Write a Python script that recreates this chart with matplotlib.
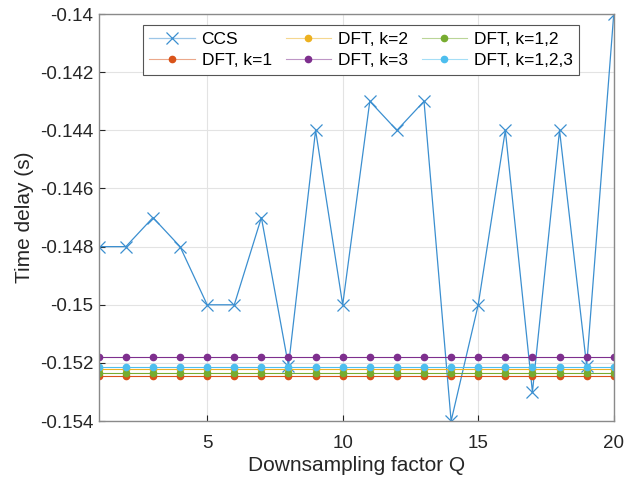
import numpy as np
import matplotlib.pyplot as plt
from matplotlib.colors import to_rgba

plt.rcParams['font.family'] = ['Liberation Sans', 'DejaVu Sans']

q = np.arange(1, 21)
ccs = [-0.148, -0.148, -0.147, -0.148, -0.150, -0.150, -0.147, -0.1521, -0.144, -0.150,
       -0.143, -0.144, -0.143, -0.154, -0.150, -0.144, -0.153, -0.144, -0.1521, -0.140]
dft_k1 = [-0.15244] * 20
dft_k2 = [-0.15221] * 20
dft_k3 = [-0.15178] * 20
dft_k12 = [-0.15233] * 20
dft_k123 = [-0.15215] * 20

fig = plt.figure(figsize=(6.25, 4.84), dpi=100)
ax = fig.add_axes([0.158, 0.130, 0.824, 0.841])

ax.plot(q, ccs, color='#3b8fd0', marker='x', ms=9, mew=0.9, mec='#3b8fd0', lw=0.9, label='CCS')
series = [(dft_k1, '#D95319', 'DFT, k=1'), (dft_k2, '#EDB120', 'DFT, k=2'),
          (dft_k3, '#7E2F8E', 'DFT, k=3'), (dft_k12, '#77AC30', 'DFT, k=1,2'),
          (dft_k123, '#4DBEEE', 'DFT, k=1,2,3')]
for vals, c, lab in series:
    ax.plot(q, vals, color=c, marker='o', ms=4.5, mfc=c, mec=c, lw=0.8, label=lab)

ax.set_xlim(1, 20)
ax.set_ylim(-0.154, -0.14)
ax.set_xticks([5, 10, 15, 20])
ax.set_yticks(np.arange(-0.154, -0.1399, 0.002))
ax.set_yticklabels(['-0.154', '-0.152', '-0.15', '-0.148', '-0.146', '-0.144', '-0.142', '-0.14'])
ax.set_xticklabels(['5', '10', '15', '20'])
ax.grid(True, color='#e3e3e3', lw=0.8)
ax.set_axisbelow(True)
ax.tick_params(direction='in', labelsize=13.5, colors='#262626', length=4, pad=4)
ax.tick_params(axis='x', pad=10)
for s in ax.spines.values():
    s.set_color('#8a8a8a')
    s.set_linewidth(1.0)

ax.set_xlabel('Downsampling factor Q', fontsize=15, color='#262626', labelpad=3)
ax.set_ylabel('Time delay (s)', fontsize=15, color='#262626', labelpad=4)

leg = ax.legend(ncol=3, loc='upper left', bbox_to_anchor=(0.085, 0.973), fontsize=12.5,
                frameon=True, fancybox=False, edgecolor='#555555', framealpha=1,
                handlelength=2.6, columnspacing=0.8, handletextpad=0.4,
                borderpad=0.4, labelspacing=0.35, borderaxespad=0)
leg.get_frame().set_linewidth(0.8)
for h in leg.get_lines():
    h.set_color(to_rgba(h.get_markeredgecolor(), 0.5))

plt.savefig('out.png', dpi=100)
plt.close()
